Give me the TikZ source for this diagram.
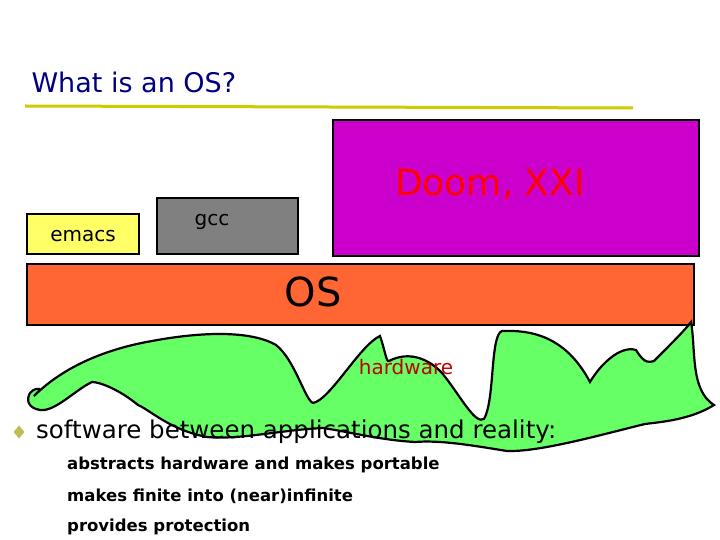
\documentclass[tikz,border=0pt]{standalone}
\usepackage{fontspec}
\setmainfont{DejaVu Sans}
\usetikzlibrary{shapes.geometric}
\definecolor{olive}{RGB}{204,204,0}
\definecolor{bulletc}{RGB}{190,190,80}
\definecolor{titleblue}{RGB}{0,0,128}
\definecolor{emacsy}{RGB}{255,255,102}
\definecolor{doomm}{RGB}{204,0,204}
\definecolor{osor}{RGB}{255,102,51}
\definecolor{hwg}{RGB}{102,255,102}
\definecolor{hwred}{RGB}{192,0,0}
\tikzset{box/.style={draw=black,line width=2pt},
  item/.style={anchor=west,font=\fontsize{16.5}{18}\selectfont\bfseries}}
\begin{document}
\begin{tikzpicture}[x=1pt,y=-1pt]
\useasboundingbox[fill=white] (0,0) rectangle (720,540);
\node[anchor=west,text=titleblue,font=\fontsize{27}{30}\selectfont] (t) at (28,82) {What is an OS?};
\draw[olive,line width=3pt] (25,106) -- (633,108);
\filldraw[box,fill=emacsy] (27,214) rectangle (139,254);
\node (em) at (83,236) {\fontsize{20}{22}\selectfont emacs};
\filldraw[box,fill=gray] (157,198) rectangle (298,254);
\node (gcc) at (212,222) {\fontsize{20}{22}\selectfont gcc};
\filldraw[box,fill=doomm] (333,120) rectangle (699,256);
\node[text=red] (doom) at (490,184) {\fontsize{36}{40}\selectfont Doom, XXI};
\filldraw[box,fill=osor] (27,264) rectangle (694,325);
\node (os) at (313,292) {\fontsize{40}{44}\selectfont OS};
\filldraw[hwg,draw=black,line width=2.2pt] (34,396) .. controls (60,370) and (100,350) .. (152,341)
 .. controls (200,332) and (250,330) .. (276,345)
 .. controls (295,360) and (305,400) .. (313,403)
 .. controls (330,400) and (360,345) .. (380,336)
 .. controls (385,350) and (386,362) .. (389,361)
 .. controls (410,350) and (430,360) .. (442,373)
 .. controls (460,395) and (475,425) .. (484,419)
 .. controls (495,400) and (490,335) .. (502,331)
 .. controls (530,330) and (565,335) .. (590,382)
 .. controls (600,365) and (620,345) .. (636,350)
 .. controls (645,365) and (650,362) .. (654,361)
 .. controls (670,345) and (685,330) .. (691,322)
 .. controls (696,350) and (690,390) .. (714,405)
 .. controls (690,420) and (660,422) .. (645,424)
 .. controls (600,435) and (540,452) .. (507,451)
 .. controls (470,445) and (440,440) .. (415,442)
 .. controls (380,440) and (350,432) .. (323,428)
 .. controls (280,430) and (240,440) .. (207,437)
 .. controls (170,430) and (150,410) .. (138,405)
 .. controls (120,390) and (100,382) .. (92,382)
 .. controls (75,390) and (55,412) .. (40,410)
 .. controls (28,408) and (26,400) .. (30,393)
 .. controls (34,388) and (40,388) .. (40,390) -- cycle;
\node[text=hwred] (hw) at (406,367) {\fontsize{20}{22}\selectfont hardware};
\node[diamond,fill=bulletc,inner sep=0pt,minimum width=11pt,minimum height=13pt] (b) at (19,432) {};
\node[anchor=west,inner sep=0pt] (s) at (36,432) {\fontsize{24.5}{28}\selectfont software between applications and reality:};
\node[item,inner sep=0pt] (i1) at (67,465) {abstracts hardware and makes portable};
\node[item,inner sep=0pt] (i2) at (67,496) {makes finite into (near)infinite};
\node[item,inner sep=0pt] (i3) at (67,527) {provides protection};
\end{tikzpicture}
\end{document}
